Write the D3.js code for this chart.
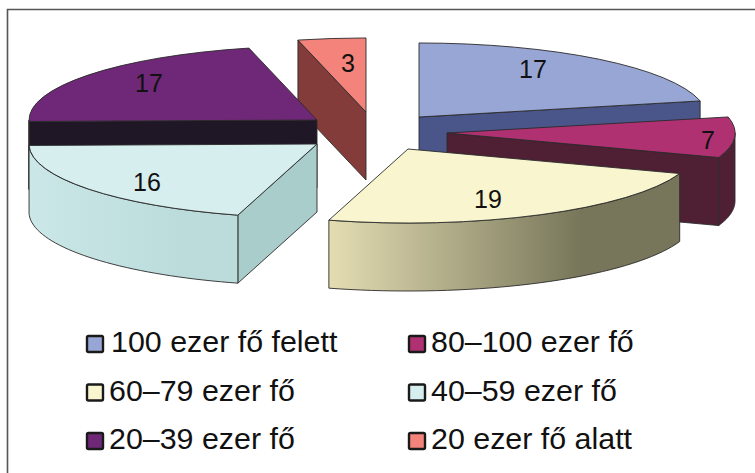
<!DOCTYPE html>
<html>
<head>
<meta charset="utf-8">
<script src="https://cdn.jsdelivr.net/npm/d3@7"></script>
<style>
  html, body { margin: 0; background: #fff; }
  text { font-family: "Liberation Sans", Arial, sans-serif; fill: #111; }
</style>
</head>
<body>
<div id="chart"></div>
<script>
const categories = ["100 ezer fő felett", "80–100 ezer fő", "60–79 ezer fő", "40–59 ezer fő", "20–39 ezer fő", "20 ezer fő alatt"];
const values = [17, 7, 19, 16, 17, 3];
const topColors = ["#98a6d5", "#b03172", "#f8f5cf", "#d6eeee", "#6f2877", "#f4847b"];
const faceColors = ["#4a5689", "#4f2034", "#8a8862", "#a9cdcb", "#1f1726", "#843c3b"];
const wallLight = ["#98a6d5", "#4f2034", "#e4ddb3", "#cbe7e8", "#1f1726", "#843c3b"];
const wallDark = ["#4a5689", "#4f2034", "#77765a", "#bcdcdc", "#1f1726", "#843c3b"];

// SVG dimensions
const width = 755;
const height = 473;
const radius = 288;
const squash = 0.257;
const depth = 68;
const centre = { x: 366, y: 134 };

// how far each slice is pulled out of the pie
const explode = [[53, -17], [81, -1], [42, 15], [-49, 10], [-49, -14], [0, -22]];
const labelShift = [[114, -48], [261, 7], [80, 50], [-170, 38], [-168, -37], [-18, -49]];
// back to front
const drawOrder = [5, 4, 3, 0, 1, 2];

const svg = d3.select("#chart")
  .append("svg")
  .attr("width", width)
  .attr("height", height);

// frame, only the top and left edges are in the picture
svg.append("path")
  .attr("d", d3.line()([[7.5, height], [7.5, 9.5], [width, 9.5]]))
  .attr("fill", "none")
  .attr("stroke", "#555")
  .attr("stroke-width", 1.6);

const slices = d3.pie().sort(null).value(d => d)(values);
const arc = d3.arc().innerRadius(0).outerRadius(radius);
const line = d3.line();

// point on the rim of a slice, a is in radians clockwise from 12 o'clock
const rim = (a, drop) => [radius * Math.sin(a), -radius * squash * Math.cos(a) + drop];

const defs = svg.append("defs");
values.forEach((d, i) => {
  const grad = defs.append("linearGradient").attr("id", `wall${i}`);
  grad.append("stop").attr("offset", "0%").attr("stop-color", wallLight[i]);
  grad.append("stop").attr("offset", "72%").attr("stop-color", wallDark[i]);
});

const edge = g => g.attr("stroke", "#2a2a2a").attr("stroke-width", 0.9).attr("stroke-linejoin", "round");

drawOrder.forEach(i => {
  const s = slices[i];
  const g = svg.append("g")
    .attr("transform", `translate(${centre.x + explode[i][0]}, ${centre.y + explode[i][1]})`);

  // the cut side facing the viewer
  const cut = Math.sin(s.startAngle) < -1e-6 ? s.startAngle : Math.sin(s.endAngle) > 1e-6 ? s.endAngle : null;
  if (cut !== null) {
    g.append("path")
      .attr("d", line([[0, 0], rim(cut, 0), rim(cut, depth), [0, depth]]) + "Z")
      .attr("fill", faceColors[i])
      .call(edge);
  }

  // outer wall, only the part between 3 and 9 o'clock shows
  const from = Math.max(s.startAngle, Math.PI / 2);
  const to = Math.min(s.endAngle, Math.PI * 1.5);
  if (to > from) {
    const angles = d3.range(0, 41).map(k => from + (to - from) * k / 40);
    const outline = angles.map(a => rim(a, 0)).concat(angles.slice().reverse().map(a => rim(a, depth)));
    g.append("path")
      .attr("d", line(outline) + "Z")
      .attr("fill", `url(#wall${i})`)
      .call(edge);
  }

  // top of the slice
  g.append("path")
    .attr("d", arc(s))
    .attr("transform", `scale(1, ${squash})`)
    .attr("fill", topColors[i])
    .attr("vector-effect", "non-scaling-stroke")
    .call(edge);

  g.append("text")
    .attr("x", labelShift[i][0])
    .attr("y", labelShift[i][1])
    .attr("text-anchor", "middle")
    .attr("dominant-baseline", "central")
    .attr("font-size", 25)
    .text(values[i]);
});

// Legend, two columns and three rows
const legendX = d3.scalePoint().domain([0, 1]).range([86, 408]);
const legendY = d3.scalePoint().domain([0, 1, 2]).range([352, 449]);

const legend = svg.selectAll(".legend")
  .data(categories)
  .join("g")
  .attr("class", "legend")
  .attr("transform", (d, i) => `translate(${legendX(i % 2)}, ${legendY(Math.floor(i / 2))})`);

legend.append("rect")
  .attr("x", 1)
  .attr("y", -16)
  .attr("width", 16)
  .attr("height", 16)
  .attr("rx", 1.5)
  .attr("fill", (d, i) => topColors[i])
  .attr("stroke", "#1a1a1a")
  .attr("stroke-width", 2.4);

legend.append("text")
  .attr("x", (d, i) => i === 0 ? 25 : 23)
  .attr("font-size", 30.4)
  .text(d => d);
</script>
</body>
</html>
